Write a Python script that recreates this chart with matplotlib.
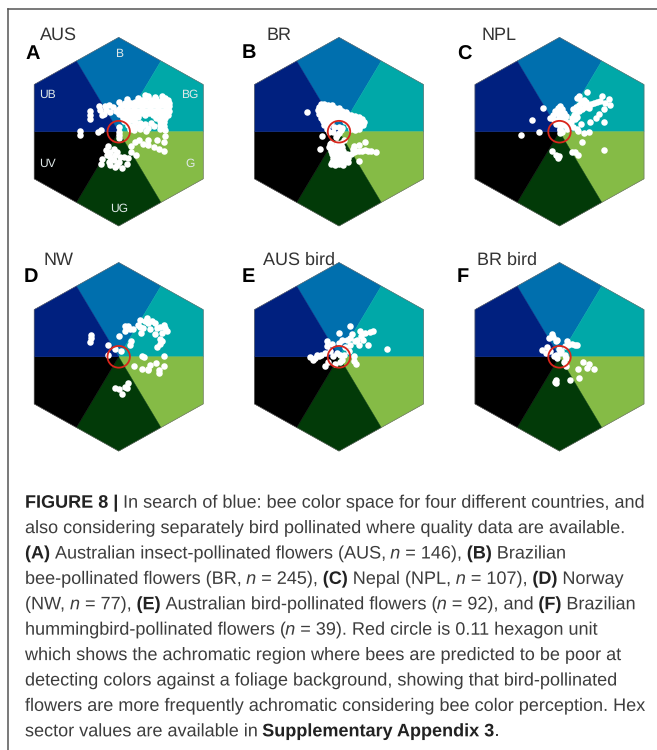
import matplotlib
matplotlib.use("Agg")
import matplotlib.patheffects as pe
import matplotlib.pyplot as plt
from matplotlib.lines import Line2D
from matplotlib.patches import Circle, Polygon

W, H = 657, 750

# hexagon plot values in hexagon units
aus_pts = [
    (.27, .39), (.30, .38), (.37, .37), (.44, .38),
    (.08, .35), (.20, .36), (.24, .34), (.28, .36), (.33, .34), (.38, .35), (.44, .34), (.47, .36), (.50, .34),
    (.00, .31), (.06, .30), (.10, .32), (.13, .30), (.17, .32), (.21, .30), (.25, .32), (.29, .30), (.33, .32),
    (.37, .30), (.41, .32), (.45, .30), (.49, .31), (.52, .30),
    (-.14, .27), (-.10, .28), (-.06, .26), (.02, .27), (.05, .28), (.09, .26), (.12, .28), (.16, .26), (.20, .28),
    (.24, .26), (.28, .28), (.32, .26), (.36, .28), (.40, .26), (.44, .28), (.48, .26), (.52, .27),
    (-.13, .23), (-.03, .22), (.00, .24), (.04, .22), (.08, .24), (.12, .22), (.16, .24), (.20, .22), (.24, .24),
    (.28, .22), (.32, .24), (.36, .22), (.40, .24), (.44, .22), (.48, .24), (.52, .22),
    (-.15, .19), (.00, .19), (.03, .18), (.07, .20), (.11, .18), (.15, .20), (.19, .18), (.23, .20), (.27, .18),
    (.31, .20), (.35, .18), (.39, .20), (.43, .18), (.47, .19), (.51, .18),
    (.04, .15), (.08, .14), (.12, .16), (.16, .14), (.20, .16), (.38, .14), (.43, .15), (.47, .14),
    (.05, .11), (.09, .10), (.13, .12), (.17, .10), (.22, .09), (.27, .08), (.33, .09), (.42, .11), (.46, .10),
    (.10, .07), (.14, .06), (.19, .05), (.24, .06), (.30, .04), (.36, .06), (.42, .07), (.46, .06),
    (.12, .03), (.16, .02), (.22, .03), (.28, .01), (.42, .03), (.47, .02),
    (-.29, .22), (-.29, .18), (-.29, .13), (-.20, .27), (-.19, .23), (-.17, .18),
    (-.40, .01), (-.40, -.04), (-.21, .00), (-.18, .02), (-.09, .21),
    (.00, .05), (.00, .00), (.00, -.04), (.00, -.07),
    (.13, -.15), (.17, -.11), (.21, -.09), (.25, -.13), (.30, -.09), (.30, -.14), (.36, -.16), (.41, -.18),
    (.46, -.20), (.46, -.11), (.47, -.05), (.39, -.09), (.13, -.21), (.18, -.25),
    (-.11, -.15), (-.13, -.19), (-.09, -.21), (-.05, -.18), (-.02, -.21), (-.09, -.27), (-.04, -.25), (.01, -.27),
    (-.12, -.25), (-.17, -.29), (-.18, -.34), (-.10, -.32), (-.05, -.30), (.00, -.32), (.05, -.27), (.10, -.28),
    (.08, -.34), (.03, -.39), (-.02, -.35), (-.09, -.35), (-.04, -.37),
]
br_pts = [
    (-.18, .29), (-.15, .29), (-.11, .28), (-.07, .28),
    (-.20, .26), (-.16, .26), (-.12, .25), (-.08, .26), (-.04, .25), (.00, .25),
    (-.22, .23), (-.18, .23), (-.14, .22), (-.10, .23), (-.06, .22), (-.02, .23), (.03, .22), (.07, .21),
    (-.20, .19), (-.16, .19), (-.12, .18), (-.08, .19), (-.04, .18), (.00, .19), (.04, .18), (.08, .19), (.12, .18), (.16, .17), (.20, .16),
    (-.18, .15), (-.14, .15), (-.10, .14), (-.06, .15), (-.02, .14), (.02, .15), (.06, .14), (.10, .15), (.14, .14), (.18, .14), (.24, .13),
    (-.16, .11), (-.12, .11), (-.08, .10), (.06, .11), (.10, .10), (.14, .11), (.18, .10), (.22, .11), (.26, .10),
    (-.15, .07), (-.11, .07), (.10, .07), (.14, .06), (.18, .07), (.22, .06), (.25, .07),
    (-.12, .03), (.12, .03), (.16, .02), (.20, .03),
    (-.33, .21), (-.17, -.05), (-.19, -.18),
    (-.10, .00), (-.06, .00), (-.02, -.03), (.00, .05), (.02, .02), (-.05, .05), (.03, .04), (.00, -.01), (-.03, -.06), (.05, -.09),
    (-.08, -.12), (-.02, -.12), (.02, -.12),
    (-.10, -.16), (-.05, -.16), (-.01, -.16), (.03, -.16),
    (-.08, -.20), (-.04, -.20), (.00, -.20), (.04, -.20),
    (-.07, -.24), (-.03, -.24), (.01, -.24), (.05, -.24), (.08, -.24),
    (-.06, -.28), (-.02, -.28), (.02, -.28), (.06, -.28), (.09, -.28),
    (-.07, -.32), (-.03, -.32), (.01, -.32), (.05, -.32), (.09, -.32),
    (-.08, -.34), (-.04, -.35), (.00, -.34), (.04, -.35),
    (.12, -.24), (.15, -.22), (.14, -.18), (.17, -.20), (.20, -.20), (.20, -.14), (.24, -.20), (.27, -.19),
    (.30, -.20), (.33, -.20), (.38, -.21), (.27, -.11), (.20, -.31), (.15, -.15), (-.09, -.13), (-.08, -.18),
]
npl_pts = [
    (-.17, .25), (-.28, .12), (-.21, .00), (-.39, -.04), (-.08, -.20), (-.04, -.25), (-.02, -.28), (-.01, -.26),
    (.13, -.21), (.16, -.22), (.19, -.25), (.23, -.11), (.46, -.19), (.25, -.01), (.30, .00), (.19, .01),
    (.31, .10), (.22, .08), (.37, .14), (.46, .10), (.28, .42), (.18, .36), (.20, .38), (.44, .38), (.51, .35),
    (.47, .30), (.52, .28), (.46, .24), (.40, .19), (.25, .34),
    (.13, .15), (.15, .18), (.17, .20), (.20, .22), (.23, .24), (.26, .26), (.29, .27), (.32, .29), (.35, .30),
    (.38, .32), (.41, .33), (.20, .28), (.24, .30), (.27, .31), (.30, .25), (.17, .26), (.22, .33), (.14, .24),
    (.16, .13), (.18, .16), (.12, .10), (.10, .06), (.14, .05), (.18, .03), (.08, .03), (.03, .00),
    (-.10, .14), (-.07, .18), (-.05, .22), (-.02, .25), (.01, .27), (.03, .24), (-.03, .20), (.01, .21), (.05, .20),
    (.07, .17), (-.01, .16), (.03, .16), (-.06, .12), (-.02, .12), (.02, .11), (.06, .12), (.09, .09), (-.04, .08),
    (.00, .06), (.00, .02), (.00, -.01), (.00, .03), (.05, .07),
]
nw_pts = [
    (-.28, .23), (-.28, .20), (-.29, .16), (.00, .22), (-.11, .12), (-.04, .08), (-.11, .02), (.02, .06),
    (.13, .17), (.12, .12), (.06, .33), (.10, .33), (.12, .30), (.06, .27), (.15, .30), (.20, .34), (.22, .39),
    (.25, .31), (.23, .25), (.29, .41), (.30, .36), (.32, .29), (.37, .24), (.37, .36), (.42, .32), (.46, .34),
    (.47, .31), (.49, .27), (.44, .25), (.39, .31), (.34, .38), (.27, .38), (.22, .32),
    (.42, .19), (.44, .17), (.42, .14), (.39, .10), (.24, .01), (.26, .00), (.46, .01),
    (.16, -.10), (.24, -.13), (.30, -.13), (.32, -.09), (.38, -.07), (.46, -.10), (.41, -.14), (.41, -.17), (.30, -.14),
    (-.04, -.33), (.00, -.34), (.03, -.39), (.06, -.32), (.10, -.28), (.08, -.33),
]
aus_bird_pts = [
    (.11, .33), (.00, .25), (-.12, .17), (.49, .08), (.30, .12), (.32, .26), (.35, .27), (.27, .25), (.22, .27),
    (.23, .22), (.25, .18), (.13, .24), (.11, .20), (.08, .18), (.16, .17), (.20, .13), (.03, .18), (.00, .15),
    (-.07, .14), (-.12, .11), (-.18, .02), (-.21, .01), (-.25, -.01), (-.30, .00), (-.27, -.03), (-.23, .02),
    (-.14, -.10), (-.11, -.06), (-.14, .04), (.15, .01), (.15, -.04), (.17, -.08), (.10, .06), (.01, .02),
    (-.02, .04), (.03, -.03), (-.04, -.08), (.01, -.06), (.05, .02), (-.06, .01), (.06, .10), (-.09, .06),
    (.11, .13), (.18, .18),
]
br_bird_pts = [
    (-.08, .24), (-.11, .20), (-.07, .21), (-.03, .18), (-.04, .17), (.08, .17), (.09, .12), (.13, .14), (.16, .13),
    (.18, .13), (.06, .11), (-.18, .07), (-.13, .10), (-.10, .06), (-.14, .04), (-.04, .02), (-.03, -.01), (-.06, .01),
    (.02, .06), (.06, .02), (.07, -.01), (.05, -.06), (.07, -.10), (.24, -.05), (.30, -.08), (.28, -.12), (.35, -.13),
    (.19, -.13), (.20, -.23), (.11, -.25), (-.04, -.25), (-.04, -.28), (-.05, -.27), (.01, .04), (-.01, .08),
]

panel_letters = ["A", "B", "C", "D", "E", "F"]
panel_titles = ["AUS", "BR", "NPL", "NW", "AUS bird", "BR bird"]
panel_points = [aus_pts, br_pts, npl_pts, nw_pts, aus_bird_pts, br_bird_pts]
sector_names = ["B", "BG", "G", "UG", "UV", "UB"]
sector_colors = ["#006fae", "#00a8a8", "#85bb46", "#023a08", "#000000", "#00207f"]
achromatic_radius = 0.115

# pixel layout
centers = [(118.7, 131.7), (339, 131.7), (559.5, 131.7), (118.7, 356.8), (339, 356.8), (559.5, 356.8)]
letter_pos = [(25, 59), (242, 58), (457, 60), (24, 282), (242, 282), (457, 282)]
title_pos = [(40, 40), (267, 40), (482, 40), (44, 265), (263, 265), (477, 265)]
label_pos = [(0, .83), (.73, .39), (.73, -.34), (0, -.82), (-.73, -.34), (-.73, .39)]
PX_X, PX_Y = 97.6, 94.3

s3 = 0.866
corners = [(0, 1), (s3, .5), (s3, -.5), (0, -1), (-s3, -.5), (-s3, .5)]
mids = [(-.433, .75), (.433, .75), (s3, 0), (.433, -.75), (-.433, -.75), (-s3, 0), (-.433, .75)]


def px(x, y):
    return x / W, 1 - y / H


plt.rcParams["font.family"] = ["Liberation Sans", "DejaVu Sans"]
plt.rcParams["text.hinting"] = "none"
plt.rcParams["text.hinting_factor"] = 1

fig = plt.figure(figsize=(W / 100, H / 100), dpi=100)

fig.add_artist(Line2D([8 / W, 1], [1 - 8.5 / H] * 2, color="#555555", lw=1.1))
fig.add_artist(Line2D([8 / W] * 2, [1 - 8.5 / H, 0], color="#555555", lw=1.1))

for i, pts in enumerate(panel_points):
    cx, cy = centers[i]
    hw, hh = 1.05 * PX_X, 1.05 * PX_Y
    ax = fig.add_axes([(cx - hw) / W, 1 - (cy + hh) / H, 2 * hw / W, 2 * hh / H])
    ax.set_xlim(-1.05, 1.05)
    ax.set_ylim(-1.05, 1.05)
    ax.axis("off")
    for k in range(6):
        poly = [(0, 0), mids[k], corners[k], mids[k + 1]]
        ax.add_patch(Polygon(poly, closed=True, fc=sector_colors[k], ec=sector_colors[k], lw=0.3))
    ax.add_patch(Polygon(corners, closed=True, fill=False, ec="#666666", lw=0.4))
    ax.scatter([p[0] for p in pts], [p[1] for p in pts], s=22, c="white", linewidths=0, zorder=3)
    ax.add_patch(Circle((0, 0), achromatic_radius, fill=False, ec="#d9261c", lw=1.3, zorder=4))
    if i == 0:
        for name, (lx, ly) in zip(sector_names, label_pos):
            ax.text(lx, ly, name, color="#dfe8e8", fontsize=8.5, ha="center", va="center")
    lx, ly = px(*letter_pos[i])
    fig.text(lx, ly, panel_letters[i], fontsize=14.5, fontweight="bold", color="black")
    tx, ty = px(*title_pos[i])
    fig.text(tx, ty, panel_titles[i], fontsize=13, color="#333333")

# caption, one list of (text, style) runs per line
caption = [
    [("FIGURE 8 | ", "b"), ("In search of blue: bee color space for four different countries, and", "r")],
    [("also considering separately bird pollinated where quality data are available.", "r")],
    [("(A) ", "b"), ("Australian insect-pollinated flowers (AUS, ", "r"), ("n", "i"), (" = 146), ", "r"), ("(B) ", "b"), ("Brazilian", "r")],
    [("bee-pollinated flowers (BR, ", "r"), ("n", "i"), (" = 245), ", "r"), ("(C) ", "b"), ("Nepal (NPL, ", "r"), ("n", "i"), (" = 107), ", "r"), ("(D) ", "b"), ("Norway", "r")],
    [("(NW, ", "r"), ("n", "i"), (" = 77), ", "r"), ("(E) ", "b"), ("Australian bird-pollinated flowers (", "r"), ("n", "i"), (" = 92), and ", "r"), ("(F) ", "b"), ("Brazilian", "r")],
    [("hummingbird-pollinated flowers (", "r"), ("n", "i"), (" = 39). Red circle is 0.11 hexagon unit", "r")],
    [("which shows the achromatic region where bees are predicted to be poor at", "r")],
    [("detecting colors against a foliage background, showing that bird-pollinated", "r")],
    [("flowers are more frequently achromatic considering bee color perception. Hex", "r")],
    [("sector values are available in ", "r"), ("Supplementary Appendix 3", "b"), (".", "r")],
]
styles = {
    "r": dict(color="#3d3d3d"),
    "b": dict(color="#222222", fontweight="bold"),
    "i": dict(color="#3d3d3d", fontstyle="italic"),
}
renderer = fig.canvas.get_renderer()
CAP_SIZE = 13.0


def run_width(text, style):
    # sentinels on both sides keep the spaces and bearings in the measure
    a = fig.text(0, 0, "|" + text + "|", fontsize=CAP_SIZE, **styles[style])
    b = fig.text(0, 0, "||", fontsize=CAP_SIZE, **styles[style])
    w = a.get_window_extent(renderer).width - b.get_window_extent(renderer).width
    a.remove()
    b.remove()
    return w


for n, line in enumerate(caption):
    x = 25.0
    y = 507.7 + n * 25.4
    for text, style in line:
        fx, fy = px(x, y)
        # drawn as paths so every run sits on the same baseline
        t = fig.text(fx, fy, text, fontsize=CAP_SIZE, **styles[style])
        t.set_path_effects([pe.Normal()])
        x += run_width(text, style)

fig.savefig("out.png", dpi=100)
